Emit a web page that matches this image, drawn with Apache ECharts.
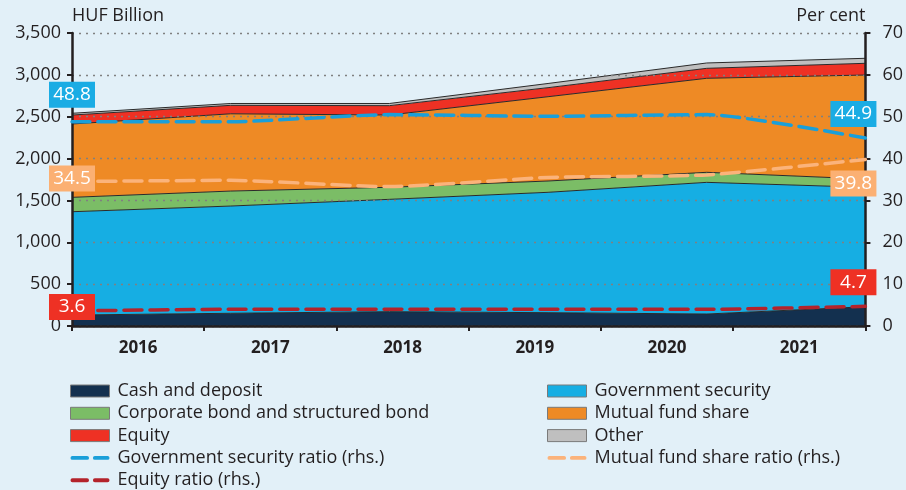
<!DOCTYPE html>
<html>
<head>
<meta charset="utf-8">
<script src="https://cdn.jsdelivr.net/npm/echarts@6/dist/echarts.min.js"></script>
<style>
  html, body { margin: 0; padding: 0; background: #e2f0f8; }
  #chart { width: 906px; height: 490px; }
</style>
</head>
<body>
<div id="chart"></div>
<script>
// Household securities portfolio, HUF billion (stacked) and shares in per cent (rhs)
const years = ['2016', '2017', '2018', '2019', '2020', '2021'];

const cashDeposit   = [131, 152, 171, 159, 143, 230];
const govSecurity   = [1234, 1281, 1342, 1438, 1573, 1427];
const corpBond      = [172, 179, 144, 135, 120, 99];
const mutualFund    = [876, 923, 863, 1007, 1123, 1242];
const equity        = [107, 101, 112, 108, 119, 140];
const other         = [21, 22, 26, 50, 64, 60];

const govRatio      = [48.8, 48.8, 50.5, 50.1, 50.5, 44.9];
const mutualRatio   = [34.5, 34.8, 33.3, 35.5, 36.1, 39.8];
const equityRatio   = [3.6, 4.0, 4.0, 4.0, 4.0, 4.7];

const leftTicks  = [0, 500, 1000, 1500, 2000, 2500, 3000, 3500];
const rightTicks = [0, 10, 20, 30, 40, 50, 60, 70];

const FONT = 'Open Sans';
const INK = '#231f20';
const EDGE = '#2a2a2a';

function areaSeries(name, data, color) {
  return {
    name, type: 'line', stack: 'total', data,
    xAxisIndex: 1, yAxisIndex: 0, z: 2,
    symbol: 'none',
    lineStyle: { color: EDGE, width: 1 },
    itemStyle: { color },
    areaStyle: { color, opacity: 1 },
    emphasis: { disabled: true }
  };
}

// Boxed value tags at both ends of a ratio line, drawn above every line
function endTags(data, color, startOffset, endOffset) {
  const last = data.length - 1;
  const tag = (i, off) => ({
    coord: [years[i], data[i]], value: data[i],
    symbolOffset: off
  });
  return {
    z: 20,
    symbol: 'rect', symbolSize: [46, 26],
    itemStyle: { color },
    label: {
      show: true, position: 'inside', color: '#ffffff',
      fontFamily: FONT, fontSize: 19,
      formatter: p => p.value.toFixed(1)
    },
    data: [tag(0, startOffset), tag(last, endOffset)]
  };
}

function ratioSeries(name, data, color, tagColor, startOffset, endOffset) {
  return {
    name, type: 'line', data,
    xAxisIndex: 1, yAxisIndex: 1,
    symbol: 'none', smooth: 0.2, z: 5,
    lineStyle: { color, width: 3.5, type: [18, 8], cap: 'round' },
    itemStyle: { color },
    emphasis: { disabled: true },
    markPoint: endTags(data, tagColor, startOffset, endOffset)
  };
}

const chart = echarts.init(document.getElementById('chart'));

const boxLegend = (name) => ({ name, icon: 'rect', itemStyle: { borderColor: '#7a7a7a', borderWidth: 1 } });
const dashIcon = 'path://M2,0H17A2,2 0 0 1 17,4H2A2,2 0 0 1 2,0Z M25,0H38A2,2 0 0 1 38,4H25A2,2 0 0 1 25,0Z';
const dashLegend = (name) => ({ name, icon: dashIcon });
const legendText = { fontFamily: FONT, fontSize: 18, color: INK, padding: [0, 0, 0, 3] };

chart.setOption({
  animation: false,
  backgroundColor: '#e2f0f8',
  grid: { left: 72, right: 40, top: 33, bottom: 164 },
  legend: [
    {
      orient: 'vertical', left: 70, top: 382, padding: 0,
      itemWidth: 39, itemHeight: 12, itemGap: 4.3,
      selectedMode: false, textStyle: legendText,
      data: [boxLegend('Cash and deposit'), boxLegend('Corporate bond and structured bond'),
             boxLegend('Equity'), dashLegend('Government security ratio (rhs.)'), dashLegend('Equity ratio (rhs.)')]
    },
    {
      orient: 'vertical', left: 547, top: 382, padding: 0,
      itemWidth: 39, itemHeight: 12, itemGap: 4.3,
      selectedMode: false, textStyle: legendText,
      data: [boxLegend('Government security'), boxLegend('Mutual fund share'),
             boxLegend('Other'), dashLegend('Mutual fund share ratio (rhs.)')]
    }
  ],
  xAxis: [
    {
      type: 'category', data: years, boundaryGap: true, position: 'bottom',
      axisLine: { show: true, lineStyle: { color: INK, width: 2.5 } },
      axisTick: { show: true, length: 5, lineStyle: { color: INK, width: 2 } },
      axisLabel: { color: INK, fontFamily: FONT, fontSize: 17, fontWeight: 'bold', margin: 14 },
      splitLine: { show: false },
      z: 3
    },
    {
      type: 'category', data: years, boundaryGap: false, show: false
    }
  ],
  yAxis: [
    {
      type: 'value', min: 0, max: 3500, interval: 500,
      name: 'HUF Billion', nameLocation: 'end', nameGap: 8,
      nameTextStyle: { color: INK, fontFamily: FONT, fontSize: 18, align: 'left', verticalAlign: 'bottom' },
      axisLine: { show: true, lineStyle: { color: INK, width: 2.5 } },
      axisTick: { show: true, length: 5, lineStyle: { color: INK, width: 2 } },
      axisLabel: {
        color: INK, fontFamily: FONT, fontSize: 18, margin: 11,
        formatter: v => leftTicks.includes(v) ? v.toLocaleString('en-US') : ''
      },
      splitLine: { show: true, lineStyle: { color: '#808080', type: [2, 5], width: 1.3 } },
      z: 3
    },
    {
      type: 'value', min: 0, max: 70, interval: 10, position: 'right',
      name: 'Per cent', nameLocation: 'end', nameGap: 8,
      nameTextStyle: { color: INK, fontFamily: FONT, fontSize: 18, align: 'right', verticalAlign: 'bottom' },
      axisLine: { show: true, lineStyle: { color: INK, width: 2.5 } },
      axisTick: { show: true, length: 5, lineStyle: { color: INK, width: 2 } },
      axisLabel: {
        color: INK, fontFamily: FONT, fontSize: 18, margin: 17,
        formatter: v => rightTicks.includes(v) ? String(v) : ''
      },
      splitLine: { show: false },
      z: 3
    }
  ],
  series: [
    areaSeries('Cash and deposit', cashDeposit, '#13304f'),
    areaSeries('Government security', govSecurity, '#16aee3'),
    areaSeries('Corporate bond and structured bond', corpBond, '#7bbd66'),
    areaSeries('Mutual fund share', mutualFund, '#ee8a25'),
    areaSeries('Equity', equity, '#ee3124'),
    areaSeries('Other', other, '#bfbfbf'),
    ratioSeries('Government security ratio (rhs.)', govRatio, '#1a9fd9', '#1aace4', [0, -27], [-12, -24]),
    ratioSeries('Mutual fund share ratio (rhs.)', mutualRatio, '#fbb37b', '#fbb073', [0, -3], [-12, 24]),
    ratioSeries('Equity ratio (rhs.)', equityRatio, '#b4232b', '#ee3124', [0, -4], [-12, -24])
  ]
});
</script>
</body>
</html>
